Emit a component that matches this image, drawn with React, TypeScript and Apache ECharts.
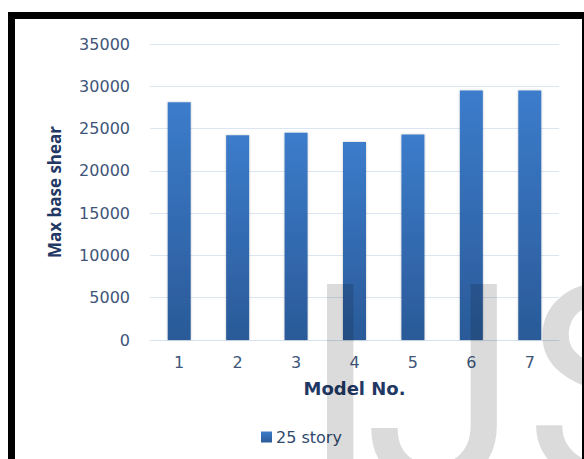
import React, { useEffect, useRef } from 'react';
import * as echarts from 'echarts';

const categories = ['1', '2', '3', '4', '5', '6', '7'];
const baseShear = [28100, 24200, 24500, 23400, 24300, 29500, 29500];
const seriesName = '25 story';
const xTitle = 'Model No.';
const yTitle = 'Max base shear';
const yMin = 0;
const yMax = 35000;
const yStep = 5000;
const watermark = ['I', 'J', 'S'];

export default function App() {
  const ref = useRef<HTMLDivElement>(null);
  useEffect(() => {
    if (!ref.current) return;
    const chart = echarts.init(ref.current, undefined, { renderer: 'svg' });
    const barColor = new echarts.graphic.LinearGradient(0, 0, 0, 1, [
      { offset: 0, color: '#3C7CCB' },
      { offset: 1, color: '#2A5A98' },
    ]);
    const wmX = [302, 364, 525];
    chart.setOption({
      animation: false,
      backgroundColor: '#ffffff',
      grid: { left: 150, right: 25, top: 44, bottom: 119, containLabel: false },
      legend: {
        data: [seriesName],
        left: 256,
        top: 424,
        itemWidth: 11,
        itemHeight: 11,
        itemGap: 5,
        icon: 'rect',
        textStyle: { color: '#2F4A6E', fontSize: 16, fontFamily: 'DejaVu Sans', padding: [0, 0, 0, -1] },
      },
      xAxis: {
        type: 'category',
        data: categories,
        name: xTitle,
        nameLocation: 'middle',
        nameGap: 39,
        nameTextStyle: { color: '#1F3864', fontSize: 18, fontWeight: 'bold', fontFamily: 'DejaVu Sans' },
        axisLine: { lineStyle: { color: '#D6E2F1', width: 1 } },
        axisTick: { show: false },
        axisLabel: { color: '#3E5578', fontSize: 16, fontFamily: 'DejaVu Sans', margin: 14 },
      },
      yAxis: {
        type: 'value',
        min: yMin,
        max: yMax,
        interval: yStep,
        name: yTitle,
        nameLocation: 'middle',
        nameGap: 87,
        nameRotate: 90,
        nameTextStyle: { color: '#1F3864', fontSize: 17, fontWeight: 'bold', fontFamily: 'Open Sans' },
        axisLine: { show: false },
        axisTick: { show: false },
        splitLine: { lineStyle: { color: '#DCE6F2', width: 1 } },
        axisLabel: {
          color: '#3E5578',
          fontSize: 16,
          fontFamily: 'DejaVu Sans',
          margin: 20,
          formatter: (v: number) => String(v),
        },
      },
      series: [
        {
          name: seriesName,
          type: 'bar',
          data: baseShear,
          barWidth: 23,
          itemStyle: { color: barColor, shadowBlur: 2, shadowColor: 'rgba(0,0,0,0.25)' },
        },
      ],
      graphic: [
        {
          type: 'rect',
          shape: { x: 11.5, y: 15.5, width: 574, height: 500 },
          style: { fill: 'none', stroke: '#000000', lineWidth: 7 },
          z: 50,
          silent: true,
        },
        ...watermark.map((ch, i) => ({
          type: 'text',
          x: wmX[i],
          y: 387,
          z: 100,
          silent: true,
          style: {
            text: ch,
            fontSize: 280,
            fontFamily: 'Roboto',
            fill: 'rgba(0,0,0,0.14)',
            textAlign: 'left',
            verticalAlign: 'middle',
          },
        })),
      ],
    });
    return () => chart.dispose();
  }, []);
  return (
    <div
      ref={ref}
      style={{ position: 'fixed', left: 0, top: 0, width: 584, height: 459, background: '#fff' }}
    />
  );
}
